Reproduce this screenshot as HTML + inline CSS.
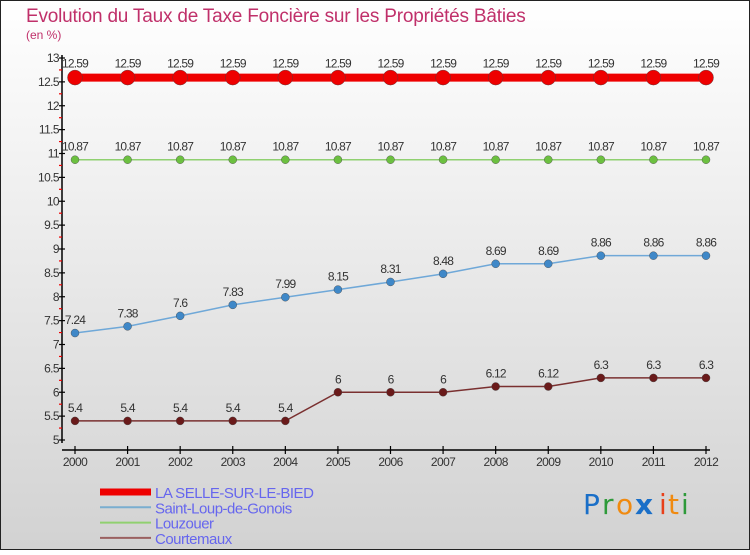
<!DOCTYPE html>
<html><head><meta charset="utf-8"><style>
html,body{margin:0;padding:0}
body{width:750px;height:550px;overflow:hidden;font-family:"Liberation Sans",sans-serif}
</style></head><body>
<svg id="c" width="750" height="550" xmlns="http://www.w3.org/2000/svg">
<defs><linearGradient id="bg" x1="0" y1="0" x2="0" y2="1"><stop offset="0" stop-color="#ffffff"/><stop offset="1" stop-color="#d2d2d2"/></linearGradient></defs>
<rect x="0.5" y="0.5" width="749" height="549" fill="url(#bg)" stroke="#222" stroke-width="1"/>
<text x="26" y="22" font-size="19" fill="#c0306a" letter-spacing="-0.2">Evolution du Taux de Taxe Foncière sur les Propriétés Bâties</text>
<text x="26" y="39" font-size="12" fill="#c0306a">(en %)</text>
<g id="axes"></g><g id="series"></g><g id="legend"></g>
<g font-size="28" font-family="'DejaVu Sans',sans-serif">
<text x="583" y="514" fill="#1a6fc8">P</text><text x="602" y="514" fill="#2e9a3a">r</text><text x="616" y="514" fill="#f08a10">o</text><text x="635" y="514" fill="#1a6fc8" font-weight="bold">x</text><text x="659" y="514" fill="#e8401a">i</text><text x="668" y="514" fill="#f08a10">t</text><text x="681" y="514" fill="#2e9a3a">i</text>
</g>
</svg>
<script>
const years=[2000,2001,2002,2003,2004,2005,2006,2007,2008,2009,2010,2011,2012];
const selle=[12.59,12.59,12.59,12.59,12.59,12.59,12.59,12.59,12.59,12.59,12.59,12.59,12.59];
const saintLoup=[7.24,7.38,7.6,7.83,7.99,8.15,8.31,8.48,8.69,8.69,8.86,8.86,8.86];
const louzouer=[10.87,10.87,10.87,10.87,10.87,10.87,10.87,10.87,10.87,10.87,10.87,10.87,10.87];
const courtemaux=[5.4,5.4,5.4,5.4,5.4,6,6,6,6.12,6.12,6.3,6.3,6.3];
const yTicks=[5,5.5,6,6.5,7,7.5,8,8.5,9,9.5,10,10.5,11,11.5,12,12.5,13];
const NS="http://www.w3.org/2000/svg";
const x=i=>75+i*(706-75)/(years.length-1);
const y=v=>440-(v-5)*(440-58)/8;
function mk(tag,attrs,parent){const e=document.createElementNS(NS,tag);for(const k in attrs)e.setAttribute(k,attrs[k]);parent.appendChild(e);return e;}
const axes=document.getElementById('axes');
let ya=mk('line',{x1:62,y1:55,x2:62,y2:443,stroke:'#000','stroke-width':1.5},axes);


for(let k=0;k<yTicks.length;k++){const v=yTicks[k];
 let t=mk('line',{x1:59,y1:y(v),x2:65,y2:y(v),stroke:'#000','stroke-width':1.2},axes);
 
 
 let l=mk('text',{x:59,y:y(v)+4,'font-size':12,fill:'#333','text-anchor':'end','letter-spacing':'-0.6'},axes);l.textContent=String(v);
 
 
 if(k<yTicks.length-1){let m=mk('line',{x1:59,y1:y(v+0.25),x2:62,y2:y(v+0.25),stroke:'#e00','stroke-width':1.2},axes);
 
 }
}
let xa=mk('line',{x1:62,y1:450,x2:710,y2:450,stroke:'#000','stroke-width':1.5},axes);


years.forEach((yr,i)=>{
 let t=mk('line',{x1:x(i),y1:446,x2:x(i),y2:454,stroke:'#000','stroke-width':1.2},axes);
 
 
 let l=mk('text',{x:x(i),y:466,'font-size':12,fill:'#333','text-anchor':'middle','letter-spacing':'-0.6'},axes);l.textContent=yr;
 
 
});
const sg=document.getElementById('series');
function series(name,data,color,dot,w,r,off){
 const g=mk('g',{},sg);
 
 
 const p=mk('polyline',{points:data.map((v,i)=>x(i)+','+y(v)).join(' '),fill:'none',stroke:color,'stroke-width':w},g);
 
 
 data.forEach((v,i)=>{
  const c=mk('circle',{cx:x(i),cy:y(v),r:r,fill:dot,stroke:'#444','stroke-width':0.4},g);
  
  
  const t=mk('text',{x:x(i),y:y(v)-off,'font-size':12,fill:'#333','text-anchor':'middle','letter-spacing':'-0.8'},g);t.textContent=String(v);
  
  
 });
}
series('courtemaux',courtemaux,'#7a3030','#6a1a1a',1.5,4,9);
series('louzouer',louzouer,'#8fd070','#6cc040',1.5,4,9);
series('saint-loup',saintLoup,'#6fa8d8','#3f88c8',1.5,4,9);
series('selle',selle,'#ee0000','#ee0000',8,7.5,10);
const lg=document.getElementById('legend');
const legend=[['LA SELLE-SUR-LE-BIED','#ee0000',7],['Saint-Loup-de-Gonois','#7aaed0',2],['Louzouer','#90d070',2],['Courtemaux','#9a6060',2]];
legend.forEach((e,i)=>{
 const yy=492+i*15.3;
 const g=mk('g',{},lg);
 
 
 mk('line',{x1:100,y1:yy,x2:151,y2:yy,stroke:e[1],'stroke-width':e[2]},g);
 const t=mk('text',{x:155,y:yy+6,'font-size':15,fill:'#6666ee','letter-spacing':'-0.5'},g);t.textContent=e[0];
});
</script>
</body></html>
